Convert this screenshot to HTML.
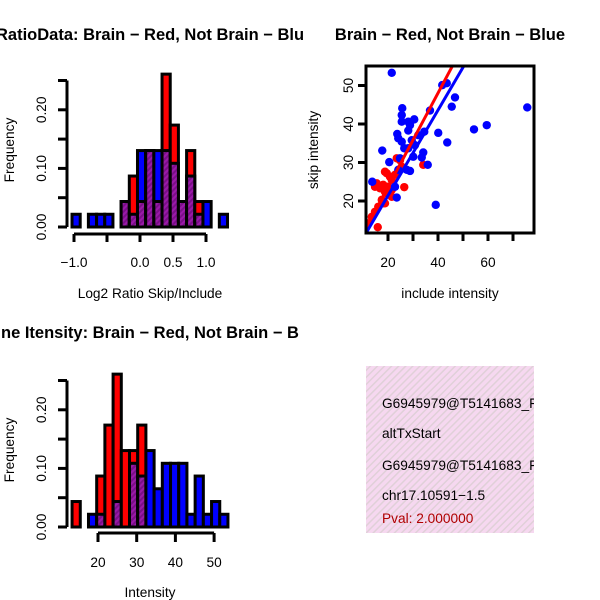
<!DOCTYPE html>
<html><head><meta charset="utf-8"><style>
html,body{margin:0;padding:0;background:#fff;width:600px;height:600px;overflow:hidden}
svg{display:block;font-family:"Liberation Sans",sans-serif}
</style></head><body>
<svg id="s" width="600" height="600" viewBox="0 0 600 600">
<defs>
<pattern id="pp" width="4" height="4" patternUnits="userSpaceOnUse" patternTransform="rotate(45)">
<rect width="4" height="4" fill="#9a1aa8"/><rect width="2" height="4" fill="#7a0f88"/></pattern>
<pattern id="pk" width="5" height="5" patternUnits="userSpaceOnUse" patternTransform="rotate(45)">
<rect width="5" height="5" fill="#f6d8f0"/><rect width="1.5" height="5" fill="#e0d0d8"/></pattern>
</defs>
</svg>
<script>
// ---- top-left histogram data (counts out of 46 per bin of 0.125) ----
const ratioBinStart = -1.03;
const ratioBinWidth = 0.124;
const ratioRed  = [0,0,0,0,0,0,2,4,2,6,2,12,8,2,6,2,0,0,0];
const ratioBlue = [1,0,1,1,1,0,2,1,6,6,6,6,5,2,4,1,2,0,1];
const ratioTotal = 46;
const ratioXTicks = [-1.0, 0.0, 0.5, 1.0];
const freqTicks = [0, 0.05, 0.10, 0.15, 0.20, 0.25];
const freqLabels = ["0.00","","0.10","","0.20",""];
// ---- bottom-left histogram ----
const intBinStart = 13.3;
const intBinWidth = 2.12;
const intRed  = [2,0,0,4,8,12,6,6,8,0,0,0,0,0,0,0,0,0,0];
const intBlue = [0,0,1,1,0,2,0,5,4,6,3,5,5,5,1,4,1,2,1];
const intTotal = 46;
const intXTicks = [20,30,40,50];
// ---- scatter ----
const blueX = [21.5,41.7,43.5,46.8,45.5,75.7,36.8,25.7,25.5,25.5,28.1,30.5,28.8,28.1,23.7,24.1,25.5,34.5,32.1,40.1,59.5,54.4,43.7,29.5,30.8,28.1,26.5,17.7,34.1,33.5,30.1,20.5,24.8,35.9,27.5,28.8,24.1,13.7,22.8,23.5,39.1];
const blueY = [53.3,50.1,50.6,46.9,44.5,44.3,43.5,44.1,42.3,40.6,40.6,41.2,39.7,38.3,37.4,36.3,35.4,38.0,37.1,37.7,39.7,38.6,35.2,35.8,34.5,33.7,33.7,33.1,32.6,31.3,31.5,30.1,31.1,29.4,28.1,27.8,28.1,25.0,23.7,20.9,19.0];
const redX = [15.9,12.1,13.5,14.8,16.1,18.1,17.5,14.8,16.8,18.8,20.1,15.5,18.1,21.5,19.5,19.5,20.8,18.8,22.8,21.5,23.5,24.8,26.5,34.1,25.5,21.5,18.8];
const redY = [13.2,14.2,15.9,17.2,18.5,19.4,20.3,23.7,23.3,22.4,23.7,24.6,24.2,22.9,22.0,27.2,26.3,27.6,26.8,25.5,31.1,30.6,23.6,29.4,28.9,21.1,19.4];
const redFit = [1.22,-0.77];   // slope, intercept
const blueFit = [1.11,-0.8];
const scXTicks = [20,30,40,50,60,70];
const scXLabels = ["20","","40","","60",""];
const scYTicks = [20,30,40,50];

const FS=13.7, TFS=16.5;
const NS="http://www.w3.org/2000/svg";
const svg=document.getElementById('s');
function mk(tag,attrs,parent){const e=document.createElementNS(NS,tag);for(const k in attrs)e.setAttribute(k,attrs[k]);(parent||svg).appendChild(e);return e;}
function txt(x,y,s,opt,parent){const e=mk('text',Object.assign({x:x,y:y,'font-size':FS,'text-anchor':'middle',fill:'#000'},opt||{}),parent);e.textContent=s;return e;}

function fy(base){return v=>base - v*586;}

function hist(g,binStart,binW,red,blue,total,xs,baseY,tag){
  const ys=fy(baseY);
  for(let i=0;i<red.length;i++){
    const r=red[i]/total,b=blue[i]/total;
    const xl=xs(binStart+i*binW), xr=xs(binStart+(i+1)*binW);
    const hi=Math.max(r,b), lo=Math.min(r,b);
    if(hi>0){
      const bar=mk('rect',{x:xl,y:ys(hi),width:xr-xl,height:ys(0)-ys(hi),fill:r>=b?'#ff0000':'#0000ff',stroke:'#000','stroke-width':3},g);
      
      
    }
    if(lo>0){
      const ov=mk('rect',{x:xl,y:ys(lo),width:xr-xl,height:ys(0)-ys(lo),fill:'url(#pp)',stroke:'#000','stroke-width':3},g);
      
      
    }
  }
  const ya=mk('g',{},g);
  
  
  mk('line',{x1:67,x2:67,y1:ys(0),y2:ys(0.25),stroke:'#000','stroke-width':3},ya);
  freqTicks.forEach((t,i)=>{
    mk('line',{x1:58,x2:67,y1:ys(t),y2:ys(t),stroke:'#000','stroke-width':3},ya);
    if(freqLabels[i]){txt(0,0,freqLabels[i],{transform:`translate(46,${ys(t)}) rotate(-90)`},ya);}
  });
}

// top-left
(function(){
  const g=mk('g',{});
  
  
  const xs=v=>140+v*66;
  hist(g,ratioBinStart,ratioBinWidth,ratioRed,ratioBlue,ratioTotal,xs,227,'ratio');
  const xa=mk('g',{},g);
  
  
  mk('line',{x1:xs(-1),x2:xs(1),y1:234,y2:234,stroke:'#000','stroke-width':3},xa);
  [-1.0,-0.5,0,0.5,1.0].forEach(t=>{mk('line',{x1:xs(t),x2:xs(t),y1:234,y2:242,stroke:'#000','stroke-width':3},xa);});
  ratioXTicks.forEach(t=>{txt(xs(t),267,(t===-1?'\u22121.0':t.toFixed(1)),{},xa);});
  const t1=txt(150,40,'RatioData: Brain \u2212 Red, Not Brain \u2212 Blu',{'font-weight':'bold','font-size':TFS});
  
  const xl=txt(150,298,'Log2 Ratio Skip/Include');
  
  const yl=txt(0,0,'Frequency',{transform:'translate(14,150) rotate(-90)'});
  
})();

// bottom-left
(function(){
  const g=mk('g',{});
  
  
  const xs=v=>98+(v-20)*3.87;
  hist(g,intBinStart,intBinWidth,intRed,intBlue,intTotal,xs,527,'intensity');
  const xa=mk('g',{},g);
  
  
  mk('line',{x1:xs(20),x2:xs(50),y1:533,y2:533,stroke:'#000','stroke-width':3},xa);
  intXTicks.forEach(t=>{mk('line',{x1:xs(t),x2:xs(t),y1:533,y2:542,stroke:'#000','stroke-width':3},xa);txt(xs(t),567,String(t),{},xa);});
  const t1=txt(150,338,'ne Itensity: Brain \u2212 Red, Not Brain \u2212 B',{'font-weight':'bold','font-size':TFS});
  
  const xl=txt(150,597,'Intensity');
  
  const yl=txt(0,0,'Frequency',{transform:'translate(14,450) rotate(-90)'});
  
})();

// scatter
(function(){
  const g=mk('g',{});
  
  
  const sx=v=>388+(v-20)*2.5, sy=v=>201-(v-20)*3.85;
  const L=366,R=534,T=66,B=233;
  const cp=mk('clipPath',{id:'sc'},g); mk('rect',{x:L,y:T,width:R-L,height:B-T},cp);
  const pts=mk('g',{'clip-path':'url(#sc)'},g);
  redX.forEach((x,i)=>{const c=mk('circle',{cx:sx(x),cy:sy(redY[i]),r:4.2,fill:'#ff0000'},pts);
    });
  blueX.forEach((x,i)=>{const c=mk('circle',{cx:sx(x),cy:sy(blueY[i]),r:4.2,fill:'#0000ff'},pts);
    });
  const x1=5,x2=90;
  const rl=mk('line',{x1:sx(x1),y1:sy(redFit[0]*x1+redFit[1]),x2:sx(x2),y2:sy(redFit[0]*x2+redFit[1]),stroke:'#ff0000','stroke-width':3},pts);
  
  const bl=mk('line',{x1:sx(x1),y1:sy(blueFit[0]*x1+blueFit[1]),x2:sx(x2),y2:sy(blueFit[0]*x2+blueFit[1]),stroke:'#0000ff','stroke-width':3},pts);
  
  const fr=mk('rect',{x:L,y:T,width:R-L,height:B-T,fill:'none',stroke:'#000','stroke-width':3},g);
  
  scXTicks.forEach((t,i)=>{mk('line',{x1:sx(t),x2:sx(t),y1:B,y2:B+8,stroke:'#000','stroke-width':3},g);
    if(scXLabels[i])txt(sx(t),267,scXLabels[i],{},g);});
  scYTicks.forEach(t=>{mk('line',{x1:L-8,x2:L,y1:sy(t),y2:sy(t),stroke:'#000','stroke-width':3},g);
    txt(0,0,String(t),{transform:`translate(353,${sy(t)}) rotate(-90)`},g);});
  const t1=txt(450,40,'Brain \u2212 Red, Not Brain \u2212 Blue',{'font-weight':'bold','font-size':TFS});
  
  const xl=txt(450,298,'include intensity');
  
  const yl=txt(0,0,'skip intensity',{transform:'translate(318,150) rotate(-90)'});
  
})();

// info panel
(function(){
  const g=mk('g',{});
  
  
  const ic=mk('clipPath',{id:'ic'},g); mk('rect',{x:366,y:366,width:168,height:167},ic);
  mk('rect',{x:366,y:366,width:168,height:167,fill:'url(#pk)'},g);
  const tg=mk('g',{'clip-path':'url(#ic)'},g);
  const lines=[['G6945979@T5141683_F',408,'#000','event-id'],['altTxStart',438,'#000','event-type'],['G6945979@T5141683_F',470,'#000','gene-id'],['chr17.10591\u22121.5',500,'#000','location'],['Pval: 2.000000',523,'#b00000','pvalue']];
  lines.forEach(l=>{const t=txt(382,l[1],l[0],{'text-anchor':'start',fill:l[2]},tg);
    });
})();
</script>
</body></html>
